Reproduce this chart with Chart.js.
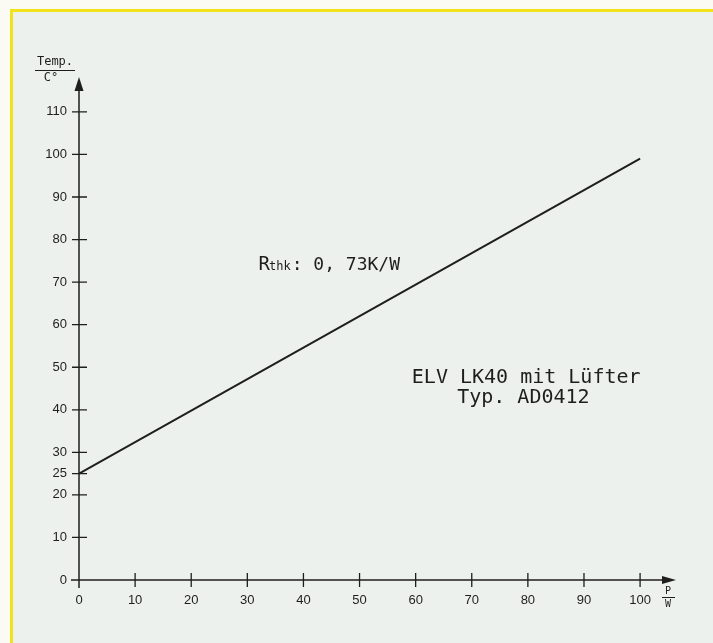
<!DOCTYPE html>
<html>
<head>
<meta charset="utf-8">
<script src="https://cdn.jsdelivr.net/npm/chart.js@4.4.1/dist/chart.umd.min.js"></script>
<style>
  html, body { margin: 0; padding: 0; background: #fbfbf3; }
  canvas { display: block; }
</style>
</head>
<body>
<canvas id="kurve" width="713" height="643"></canvas>
<script>
// Messwerte: Leistung (W) -> Kühlkörpertemperatur (°C)
const leistung = [0, 100];
const temperatur = [25, 99];
const xTicks = [0, 10, 20, 30, 40, 50, 60, 70, 80, 90, 100];
const yTicks = [0, 10, 20, 25, 30, 40, 50, 60, 70, 80, 90, 100, 110];

const tinte = '#1e1e1e';
const hintergrund = '#edf1ee';
const rahmen = '#f2e21a';

const zeichnung = {
  id: 'zeichnung',
  beforeDraw(chart) {
    const ctx = chart.ctx;
    const W = chart.width, H = chart.height;
    ctx.save();
    ctx.fillStyle = '#fbfbf3';
    ctx.fillRect(0, 0, W, H);
    ctx.fillStyle = hintergrund;
    ctx.fillRect(12, 12, W - 12, H - 12);
    ctx.fillStyle = rahmen;
    ctx.fillRect(10, 9, W - 10, 3);
    ctx.fillRect(10, 9, 3, H - 9);
    ctx.restore();
  },
  afterDatasetsDraw(chart) {
    const ctx = chart.ctx;
    const xs = chart.scales.x, ys = chart.scales.y;
    const x0 = xs.getPixelForValue(0), y0 = ys.getPixelForValue(0);
    const xEnd = chart.chartArea.right, yEnd = chart.chartArea.top;
    ctx.save();
    ctx.strokeStyle = tinte;
    ctx.fillStyle = tinte;
    ctx.lineWidth = 1.5;
    // Achsen
    ctx.beginPath();
    ctx.moveTo(x0, y0 + 8); ctx.lineTo(x0, yEnd + 10);
    ctx.moveTo(x0 - 8, y0); ctx.lineTo(xEnd - 10, y0);
    ctx.stroke();
    // Pfeile
    ctx.beginPath();
    ctx.moveTo(x0, yEnd); ctx.lineTo(x0 - 4.5, yEnd + 14); ctx.lineTo(x0 + 4.5, yEnd + 14); ctx.closePath();
    ctx.fill();
    ctx.beginPath();
    ctx.moveTo(xEnd, y0); ctx.lineTo(xEnd - 14, y0 - 4); ctx.lineTo(xEnd - 14, y0 + 4); ctx.closePath();
    ctx.fill();
    // Teilstriche
    ctx.lineWidth = 1.3;
    ctx.beginPath();
    yTicks.forEach(v => {
      if (v === 0) return;
      const py = ys.getPixelForValue(v);
      ctx.moveTo(x0 - 7, py); ctx.lineTo(x0 + 8, py);
    });
    xTicks.forEach(v => {
      if (v === 0) return;
      const px = xs.getPixelForValue(v);
      ctx.moveTo(px, y0 - 7); ctx.lineTo(px, y0 + 7);
    });
    ctx.stroke();

    // Achsentitel
    ctx.font = '12px "DejaVu Sans Mono"';
    ctx.textAlign = 'center';
    ctx.textBaseline = 'middle';
    ctx.fillText('Temp.', 55, 62);
    ctx.fillText('C°', 51, 78);
    ctx.lineWidth = 1;
    ctx.beginPath(); ctx.moveTo(35, 70.5); ctx.lineTo(75, 70.5); ctx.stroke();
    ctx.font = '10px "DejaVu Sans Mono"';
    ctx.fillText('P', 668, 591);
    ctx.fillText('W', 668, 604);
    ctx.beginPath(); ctx.moveTo(662, 597.5); ctx.lineTo(675, 597.5); ctx.stroke();

    // Beschriftungen
    ctx.textAlign = 'left';
    ctx.textBaseline = 'alphabetic';
    let tx = xs.getPixelForValue(32);
    const ty = ys.getPixelForValue(72.8);
    ctx.font = '19px "DejaVu Sans Mono"';
    ctx.fillText('R', tx, ty);
    tx += ctx.measureText('R').width - 1;
    ctx.font = '12px "DejaVu Sans Mono"';
    ctx.fillText('thk', tx, ty);
    tx += ctx.measureText('thk').width + 1;
    ctx.font = '18px "DejaVu Sans Mono"';
    ctx.fillText(': 0, 73K/W', tx, ty);

    ctx.font = '20px "DejaVu Sans Mono"';
    ctx.textAlign = 'center';
    ctx.fillText('ELV LK40 mit Lüfter', xs.getPixelForValue(79.7), ys.getPixelForValue(46.4));
    ctx.fillText('Typ. AD0412', xs.getPixelForValue(79.2), ys.getPixelForValue(41.6));
    ctx.restore();
  }
};

const tickFont = { family: '"Liberation Sans", Arial, sans-serif', size: 13 };

new Chart(document.getElementById('kurve'), {
  type: 'line',
  data: {
    datasets: [{
      data: leistung.map((p, i) => ({ x: p, y: temperatur[i] })),
      borderColor: tinte,
      borderWidth: 2,
      pointRadius: 0,
      fill: false,
      tension: 0
    }]
  },
  options: {
    responsive: false,
    animation: false,
    layout: { padding: { left: 0, top: 77, right: 37, bottom: 0 } },
    plugins: { legend: { display: false }, tooltip: { enabled: false } },
    scales: {
      x: {
        type: 'linear',
        min: 0,
        max: 106.4,
        afterFit: s => { s.height = 63; },
        afterBuildTicks: s => { s.ticks = xTicks.map(v => ({ value: v })); },
        grid: { display: false, drawTicks: false },
        border: { display: false },
        ticks: { font: tickFont, color: tinte, padding: 13, maxRotation: 0, autoSkip: false }
      },
      y: {
        type: 'linear',
        min: 0,
        max: 118.2,
        afterFit: s => { s.width = 79; },
        afterBuildTicks: s => { s.ticks = yTicks.map(v => ({ value: v })); },
        grid: { display: false, drawTicks: false },
        border: { display: false },
        ticks: { font: tickFont, color: tinte, padding: 12, autoSkip: false }
      }
    }
  },
  plugins: [zeichnung]
});
</script>
</body>
</html>
